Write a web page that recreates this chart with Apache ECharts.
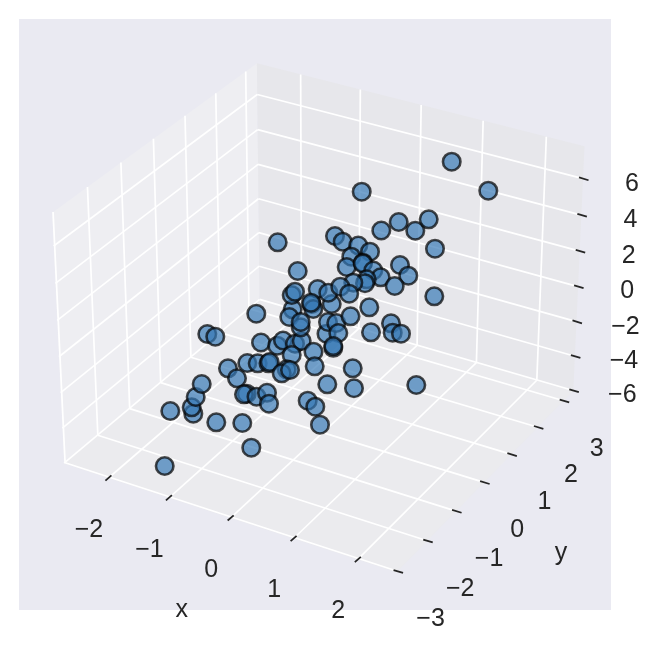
<!DOCTYPE html>
<html>
<head>
<meta charset="utf-8">
<style>html,body{margin:0;padding:0;background:#fff}#c{width:659px;height:652px}</style>
<script src="https://cdn.jsdelivr.net/npm/echarts@6/dist/echarts.min.js"></script>
</head>
<body>
<div id="c"></div>
<script>
// Tick values of the three axes
const xTicks = [-2, -1, 0, 1, 2];
const yTicks = [-3, -2, -1, 0, 1, 2, 3];
const zTicks = [-6, -4, -2, 0, 2, 4, 6];
// Axis limits of the 3D box
const xLim = [-2.745, 2.595];
const yLim = [-3.03, 3.38];
const zLim = [-6.02, 7.75];
// Points, on its projection plane (horizontal, vertical)
const viewX = [-158.3,-152.7,-129.7,-131.3,-127.3,-121.3,-115.7,-107.7,-106.7,-95,-86,-80.7,-71.7,-76.3,-79,-75.7,-65.3,-54.5,-53.3,-66.5,-56,-54,-66.7,-62,-45.7,-40,-28,-21.3,-31.3,-9.5,-8.3,-36.3,-41.3,-33,4.3,29.7,31,-15.3,-7.7,-3,-30.3,-33.7,-11.3,-9.7,-22.3,-22.3,3.5,5,13.3,15.3,10.3,27.5,8.7,46.3,48,68,69.7,78,93.3,111.3,-45.3,-25.3,-31.3,-28,-5.3,5.3,-12,12,19.7,35.3,47,28.3,23.7,40,39.7,50.3,57.7,43.7,42,30.3,17.3,26.2,58.3,75.7,92.3,105.7,112,77,85.3,71.7,38.7,128.7,165.3,10.3];
const viewY = [-161,-106,-108.7,-102.3,-92,-79,-29,-31.7,-117.3,-63.3,-73.3,-118,-142.7,-88.7,-89.3,-58,-58.3,-58.3,-57,-91.7,-87.8,-98.7,-8.7,-37.5,-40.7,-35.5,-38.7,-36,-50,-46.7,-61.3,-64.3,-68.3,-65,-79.3,-63.3,-83.2,-95.7,-101.7,-119.7,-4.3,-12,1,-4,-22.3,-17,-28.7,-17,-18,-28,-42.8,-11.3,1,-2.3,-27.3,-18.3,-27.7,-28.7,-80,8.7,62.7,34,10,13.3,16,12.3,2.3,69,63.3,59.5,53.3,48.3,38,42.3,41.5,34.5,27.7,25.7,21.8,22.3,18.3,11.3,74.5,83,74.3,85.7,56.3,40,29.3,19,113.3,143.3,114.3,-41];

// matplotlib's default 3D view (elev 30, azim -60, dist 10)
const box = [1.1905, 1.1905, 0.8929];
const W = [0.433013, -0.75, 0.5], U = [0.866025, 0.5, 0], V = [-0.25, 0.433013, 0.866025];
const viewScale = 3200, viewDx = 0.4, viewDy = -0.5;
function norm(v, l, i) { return ((v - l[0]) / (l[1] - l[0]) - 0.5) * box[i]; }
function project(x, y, z) {
  const c = [norm(x, xLim, 0), norm(y, yLim, 1), norm(z, zLim, 2)];
  const dot = (a) => a[0] * c[0] + a[1] * c[1] + a[2] * c[2];
  const den = 10 - dot(W);
  return [dot(U) / den * viewScale + viewDx, dot(V) / den * viewScale + viewDy];
}
const [x0, x1] = xLim, [y0, y1] = yLim, [z0, z1] = zLim;

const panes = [
  { pts: [[x0,y0,z0],[x0,y1,z0],[x0,y1,z1],[x0,y0,z1]], fill: '#EEEEF2' },
  { pts: [[x0,y1,z0],[x1,y1,z0],[x1,y1,z1],[x0,y1,z1]], fill: '#E7E7EB' },
  { pts: [[x0,y0,z0],[x1,y0,z0],[x1,y1,z0],[x0,y1,z0]], fill: '#EBEBEE' }
];
const gridSegs = [], tickSegs = [], labels = [];
function seg(list, a, b) { const p = project(...a), q = project(...b); list.push([p[0], p[1], q[0], q[1]]); }
xTicks.forEach(t => {
  seg(gridSegs, [t,y0,z0], [t,y1,z0]); seg(gridSegs, [t,y1,z0], [t,y1,z1]);
  const e = project(t, y0, z0);
  tickSegs.push([e[0] - 3, e[1] - 2.6, e[0] + 3, e[1] + 2.6]);
  labels.push([e[0] - 19.5, e[1] - 52, String(t).replace('-', '\u2212')]);
});
yTicks.forEach(t => {
  seg(gridSegs, [x1,t,z0], [x0,t,z0]); seg(gridSegs, [x0,t,z0], [x0,t,z1]);
  const e = project(x1, t, z0);
  tickSegs.push([e[0] - 4, e[1] + 1.2, e[0] + 5.5, e[1] - 1.6]);
  labels.push([e[0] + 33, e[1] - 48, String(t).replace('-', '\u2212')]);
});
zTicks.forEach(t => {
  seg(gridSegs, [x1,y1,t], [x0,y1,t]); seg(gridSegs, [x0,y1,t], [x0,y0,t]);
  const e = project(x1, y1, t);
  tickSegs.push([e[0] - 4, e[1] + 1.2, e[0] + 5.5, e[1] - 1.6]);
  labels.push([e[0] + 49, e[1] - 5, String(t).replace('-', '\u2212')]);
});
const mx = project(0, y0, z0), my = project(x1, 0, z0);
labels.push([mx[0] - 49, mx[1] - 92, 'x']);
labels.push([my[0] + 77, my[1] - 71, 'y']);

const lineItem = (color, width) => (params, api) => {
  const a = api.coord([api.value(0), api.value(1)]), b = api.coord([api.value(2), api.value(3)]);
  return { type: 'line', shape: { x1: a[0], y1: a[1], x2: b[0], y2: b[1] }, style: { stroke: color, lineWidth: width } };
};
const chart = echarts.init(document.getElementById('c'), null, { renderer: 'canvas' });
chart.setOption({
  animation: false,
  backgroundColor: '#ffffff',
  graphic: [{ type: 'rect', z: -10, silent: true, shape: { x: 19, y: 19, width: 592, height: 591 }, style: { fill: '#EAEAF2' } }],
  grid: { left: 0, top: 0, width: 659, height: 652, containLabel: false },
  xAxis: { type: 'value', min: -323, max: 336, show: false },
  yAxis: { type: 'value', min: -347, max: 305, show: false },
  series: [
    { type: 'custom', z: 1, silent: true, clip: false, coordinateSystem: 'cartesian2d',
      data: panes.map((p, i) => [i]), encode: { x: [], y: [] },
      renderItem: (params, api) => {
        const p = panes[api.value(0)];
        return { type: 'polygon', shape: { points: p.pts.map(q => api.coord(project(...q))) }, style: { fill: p.fill } };
      } },
    { type: 'custom', z: 2, silent: true, clip: false, data: gridSegs, encode: { x: [0, 2], y: [1, 3] }, renderItem: lineItem('#FFFFFF', 1.7) },
    { type: 'custom', z: 3, silent: true, clip: false, data: tickSegs, encode: { x: [0, 2], y: [1, 3] }, renderItem: lineItem('#262626', 1.8) },
    { type: 'custom', z: 4, silent: true, clip: false, data: labels, encode: { x: 0, y: 1 },
      renderItem: (params, api) => {
        const a = api.coord([api.value(0), api.value(1)]);
        return { type: 'text', style: { x: a[0], y: a[1], text: labels[params.dataIndex][2], fill: '#262626',
          font: '25px "Liberation Sans", Arial, sans-serif', textAlign: 'center', textVerticalAlign: 'middle' } };
      } },
    { type: 'scatter', z: 5, silent: true, symbol: 'circle', symbolSize: 17.5, clip: false,
      data: viewX.map((v, i) => [v, viewY[i]]),
      itemStyle: { color: 'rgba(52,120,180,0.86)', borderColor: 'rgba(5,5,5,0.9)', borderWidth: 2.6 } }
  ]
});
</script>
</body>
</html>
